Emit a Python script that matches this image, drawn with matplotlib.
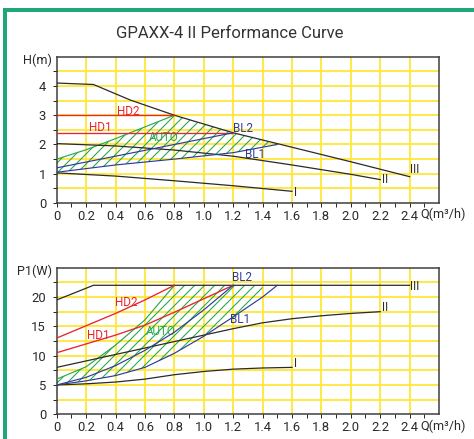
import numpy as np
import matplotlib.pyplot as plt
from matplotlib.patches import Rectangle
from matplotlib.transforms import blended_transform_factory

# --- H-Q curves (top) ---
q_h3 = [0, 0.25, 0.5, 0.8, 1.2, 1.5, 2.0, 2.4]
h_3 = [4.1, 4.05, 3.52, 3.0, 2.4, 2.03, 1.41, 0.9]
q_h2 = [0, 0.4, 0.8, 1.2, 1.6, 2.0, 2.2]
h_2 = [2.03, 1.95, 1.81, 1.6, 1.3, 0.98, 0.8]
q_h1 = [0, 0.4, 0.8, 1.2, 1.6]
h_1 = [1.03, 0.92, 0.76, 0.59, 0.4]
q_hd2 = [0, 0.8]
h_hd2 = [3.0, 3.0]
q_hd1 = [0, 1.2]
h_hd1 = [2.4, 2.4]
q_bl2 = [0, 1.2]
h_bl2 = [1.2, 2.4]
q_bl1 = [0, 0.4, 0.8, 1.2, 1.5]
h_bl1 = [1.05, 1.3, 1.5, 1.72, 2.0]
q_auto = [0, 0.2, 0.4, 0.6, 0.8]
h_auto = [1.5, 1.82, 2.2, 2.6, 3.0]

# --- P1-Q curves (bottom) ---
q_p3 = [0, 0.25, 2.4]
p_3 = [19.5, 22, 22]
q_p2 = [0, 0.4, 0.8, 1.0, 1.2, 1.4, 1.6, 1.8, 2.0, 2.2]
p_2 = [8.0, 10.2, 12.4, 13.5, 14.6, 15.6, 16.3, 16.8, 17.2, 17.5]
q_p1 = [0, 0.2, 0.4, 0.6, 0.8, 1.0, 1.2, 1.4, 1.6]
p_1 = [5.0, 5.2, 5.5, 6.0, 6.75, 7.3, 7.7, 7.9, 8.0]
q_phd2 = [0, 0.2, 0.4, 0.6, 0.8]
p_hd2 = [13, 15.1, 17.2, 19.5, 22]
q_phd1 = [0, 0.2, 0.4, 0.6, 0.8, 1.0, 1.2]
p_hd1 = [10.5, 12.0, 13.5, 15.2, 17.4, 19.7, 22]
q_pbl2 = [0, 0.2, 0.4, 0.6, 0.8, 1.0, 1.2]
p_bl2 = [5, 6.3, 8.3, 10.9, 14.0, 17.8, 22]
q_pbl1 = [0, 0.2, 0.4, 0.6, 0.8, 1.0, 1.2, 1.4, 1.5]
p_bl1 = [5, 5.7, 6.6, 8.0, 10.4, 13.3, 16.6, 20.0, 22]
q_pauto = [0, 0.2, 0.4, 0.6, 0.8]
p_auto = [6, 8.1, 11.8, 16.1, 22]
pauto_end = 1.4

xticks = [0, 0.2, 0.4, 0.6, 0.8, 1.0, 1.2, 1.4, 1.6, 1.8, 2.0, 2.2, 2.4]
xlabels = ['0', '0.2', '0.4', '0.6', '0.8', '1.0', '1.2', '1.4', '1.6', '1.8', '2.0', '2.2', '2.4']

RED = '#e8262d'
BLUE = '#2e3a9a'
GREEN = '#2aa84a'
BLK = '#2a2a2a'
YEL = '#ffe83a'
narrow = 'Roboto'

plt.rcParams['hatch.linewidth'] = 0.65

fig = plt.figure(figsize=(474 / 120, 439 / 120), dpi=120)
fig.patch.set_facecolor('white')

# green frame
fig.patches.append(Rectangle((3 / 474, 0), 4 / 474, 431 / 439, transform=fig.transFigure,
                             color='#21a67a', lw=0))
fig.patches.append(Rectangle((3 / 474, 1 - 12 / 439), 1, 4 / 439, transform=fig.transFigure,
                             color='#21a67a', lw=0))

fig.text(0.484, 1 - 33 / 439, 'GPAXX-4 II Performance Curve', ha='center', va='center',
         fontsize=10, family='Roboto', color='#333333')


def style(ax, ymax, ystep, ymajor, ylab):
    ax.set_xlim(0, 2.6)
    ax.set_ylim(0, ymax)
    for x in xticks[1:]:
        ax.axvline(x, color=YEL, lw=1.1, zorder=0)
    for y in np.arange(ystep, ymax, ystep):
        ax.axhline(y, color=YEL, lw=1.1, zorder=0)
    ax.set_xticks(xticks)
    ax.set_xticklabels(xlabels)
    ax.set_xticks(np.arange(0.1, 2.6, 0.2), minor=True)
    ax.set_yticks(np.arange(0, ymax, ymajor))
    ax.set_yticks(np.arange(ystep, ymax, ymajor), minor=True)
    ax.tick_params(which='both', direction='out', length=2.4, width=0.6, color=BLK,
                   labelsize=7.8, labelcolor=BLK)
    ax.tick_params(axis='x', pad=1.5)
    ax.tick_params(axis='y', pad=4)
    for lab in ax.get_xticklabels() + ax.get_yticklabels():
        lab.set_family(narrow)
    for s in ax.spines.values():
        s.set_color('#3a3a3a')
        s.set_linewidth(0.9)
    ax.text(-0.012, 0.975, ylab, transform=ax.transAxes, ha='right', va='center',
            fontsize=7.6, color=BLK, family=narrow)
    tr = blended_transform_factory(ax.transData, ax.transAxes)
    ax.text(2.625, -0.08, 'Q(m³/h)', transform=tr, ha='center', va='center',
            fontsize=7.6, color=BLK, family=narrow)


def lab(ax, x, y, s, c, ha='center'):
    ax.text(x, y, s, color=c, fontsize=7, ha=ha, va='center', family=narrow)


# ---------- top: H ----------
ax1 = fig.add_axes([56.7 / 474, 1 - 203 / 439, 382.3 / 474, 146.3 / 439])
style(ax1, 5, 0.5, 1, 'H(m)')

# hatched AUTO area: green upper curve, then curve III, back along BL1
up_q = list(q_auto) + [q for q in q_h3 if 0.8 < q <= 1.5]
up_h = list(h_auto) + [h for q, h in zip(q_h3, h_3) if 0.8 < q <= 1.5]
poly_q = up_q + q_bl1[::-1]
poly_h = up_h + h_bl1[::-1]
ax1.fill(poly_q, poly_h, facecolor='none', edgecolor=GREEN, hatch='////', lw=0, zorder=2)
ax1.plot(q_auto, h_auto, color=GREEN, lw=0.7, zorder=3)

ax1.plot(q_h3, h_3, color=BLK, lw=0.75, zorder=4)
ax1.plot(q_h2, h_2, color=BLK, lw=0.75, zorder=4)
ax1.plot(q_h1, h_1, color=BLK, lw=0.75, zorder=4)
ax1.plot(q_hd2, h_hd2, color=RED, lw=0.8, zorder=4)
ax1.plot(q_hd1, h_hd1, color=RED, lw=0.8, zorder=4)
ax1.plot(q_bl2, h_bl2, color=BLUE, lw=0.7, zorder=4)
ax1.plot(q_bl1, h_bl1, color=BLUE, lw=0.7, zorder=4)

lab(ax1, 0.49, 3.14, 'HD2', RED)
lab(ax1, 0.30, 2.59, 'HD1', RED)
lab(ax1, 0.73, 2.25, 'AUTO', GREEN)
lab(ax1, 1.27, 2.55, 'BL2', BLUE)
lab(ax1, 1.35, 1.67, 'BL1', BLUE)
lab(ax1, 2.405, 1.16, 'III', BLK, ha='left')
lab(ax1, 2.21, 0.82, 'II', BLK, ha='left')
lab(ax1, 1.615, 0.35, 'I', BLK, ha='left')

# ---------- bottom: P1 ----------
ax2 = fig.add_axes([56.7 / 474, 1 - 414.3 / 439, 382.3 / 474, 146.6 / 439])
style(ax2, 25, 2.5, 5, 'P1(W)')

end_p = [p for q, p in zip(q_pbl1, p_bl1) if q <= pauto_end]
end_q = [q for q in q_pbl1 if q <= pauto_end]
poly_q = list(q_pauto) + [pauto_end] + end_q[::-1]
poly_p = list(p_auto) + [p_3[-1]] + end_p[::-1]
ax2.fill(poly_q, poly_p, facecolor='none', edgecolor=GREEN, hatch='////', lw=0, zorder=2)
ax2.plot(q_pauto, p_auto, color=GREEN, lw=0.7, zorder=3)

ax2.plot(q_p3, p_3, color=BLK, lw=0.75, zorder=4)
ax2.plot(q_p2, p_2, color=BLK, lw=0.75, zorder=4)
ax2.plot(q_p1, p_1, color=BLK, lw=0.75, zorder=4)
ax2.plot(q_phd2, p_hd2, color=RED, lw=0.8, zorder=4)
ax2.plot(q_phd1, p_hd1, color=RED, lw=0.8, zorder=4)
ax2.plot(q_pbl2, p_bl2, color=BLUE, lw=0.7, zorder=4)
ax2.plot(q_pbl1, p_bl1, color=BLUE, lw=0.7, zorder=4)

lab(ax2, 0.47, 19.0, 'HD2', RED)
lab(ax2, 0.28, 13.5, 'HD1', RED)
lab(ax2, 0.71, 14.2, 'AUTO', GREEN)
lab(ax2, 1.26, 23.3, 'BL2', BLUE)
lab(ax2, 1.25, 16.2, 'BL1', BLUE)
lab(ax2, 2.405, 21.75, 'III', BLK, ha='left')
lab(ax2, 2.21, 18.2, 'II', BLK, ha='left')
lab(ax2, 1.615, 8.6, 'I', BLK, ha='left')

fig.savefig('out.png', dpi=120)
